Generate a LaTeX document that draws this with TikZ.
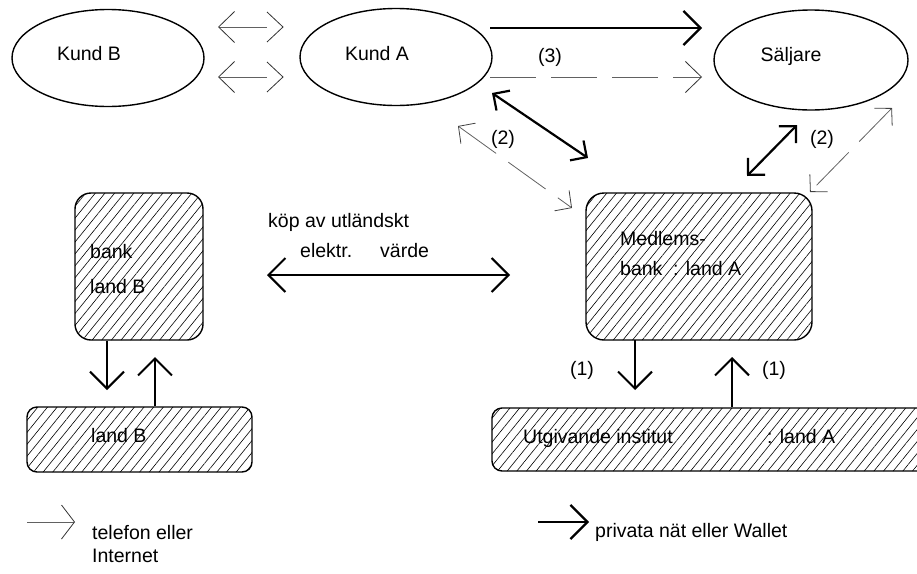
\documentclass[tikz,border=0pt]{standalone}
\usepackage{fontspec}
\setmainfont{Liberation Sans}
\usetikzlibrary{arrows.meta,patterns.meta,shapes.geometric}
\begin{document}
\begin{tikzpicture}[x=1pt,y=-1pt,
  every node/.style={font=\fontsize{19.5}{22}\selectfont},
  ell/.style={draw, line width=1.4pt, ellipse, inner sep=0pt, minimum width=192pt, minimum height=97pt},
  hbox/.style={draw, line width=1.4pt, inner sep=0pt, pattern={Lines[angle=51,distance=7.5pt,line width=0.6pt]}},
  lbl/.style={inner sep=0pt, anchor=west, text height=14pt, text depth=0pt},
  clbl/.style={inner sep=0pt, text height=14pt, text depth=0pt},
  thk/.style={line width=2.2pt, black},
  thn/.style={line width=0.8pt, black!62},
  thd/.style={thn, dash pattern=on 46pt off 15pt},
  HB/.tip={Straight Barb[length=17pt,width=34pt,color=black]},
  TB/.tip={Straight Barb[length=16pt,width=31pt,color=black!80]},
  DB/.tip={Straight Barb[length=12pt,width=24pt]},
  DT/.tip={Straight Barb[length=12pt,width=25pt,color=black!75]}
]
\useasboundingbox (0,0) rectangle (917,573);
\clip (0,0) rectangle (917,573);

% ellipses
\node[ell] (kb) at (108,58) {};
\node[ell] (ka) at (396,57) {};
\node[ell, minimum width=194pt, minimum height=100pt] (sa) at (811,60) {};
\node[clbl] (kbt) at (89,53) {Kund B};
\node[clbl] (kat) at (377,53) {Kund A};
\node[clbl] (sat) at (791,54) {Säljare};

% hatched boxes
\node[hbox, rounded corners=18pt, minimum width=226pt, minimum height=147pt] (mb) at (699,266.5) {};
\node[hbox, rounded corners=16pt, minimum width=128pt, minimum height=147pt] (bb) at (139,266.5) {};
\node[hbox, rounded corners=10pt, minimum width=225pt, minimum height=65pt] (lb) at (139.5,439.5) {};
\node[hbox, rounded corners=10pt, minimum width=445pt, minimum height=63pt] (ui) at (714.5,439.5) {};

% box texts
\node[lbl] (mb1) at (620,238) {Medlems-};
\node[lbl] (mb2) at (620,268) {bank};
\node[lbl] (mb3) at (673,268) {: land A};
\node[lbl] (bb1) at (90,251) {bank};
\node[lbl] (bb2) at (90,286) {land B};
\node[lbl] (lb1) at (91,435) {land B};
\node[lbl] (ui1) at (523,436) {Utgivande institut};
\node[lbl] (ui2) at (767,436) {: land A};

% thin arrows Kund B -- Kund A
\coordinate (ta1) at (218,27); \coordinate (ta2) at (267,27); \coordinate (ta3) at (283,27);
\draw[thn, {TB}-] (ta1) -- (ta2);
\draw[line width=0.8pt, black!80] (ta3) ++(-16,-15) -- (ta3) -- ++(-16,15);
\coordinate (tb1) at (218,77); \coordinate (tb2) at (267,77); \coordinate (tb3) at (283,77);
\draw[thn, {TB}-] (tb1) -- (tb2);
\draw[line width=0.8pt, black!80] (tb3) ++(-16,-15) -- (tb3) -- ++(-16,15);

% Kund A -> Saljare
\coordinate (k1) at (490,28); \coordinate (s1) at (702,28);
\draw[thk, -{HB}] (k1) -- (s1);
\coordinate (k2) at (490,77); \coordinate (s2) at (702,77);
\draw[thd, -{TB}] (k2) -- (s2);
\node[clbl] (n3) at (550,55) {(3)};

% Kund A <-> Medlemsbank
\coordinate (k3) at (492,93); \coordinate (m3) at (588,158);
\draw[thk, {DB}-{DB}] (k3) -- (m3);
\coordinate (k4) at (458,126); \coordinate (m4) at (572,208);
\draw[thd, {DT}-{DT}] (k4) -- (m4);
\node[clbl] (n2a) at (503,137) {(2)};

% Saljare <-> Medlemsbank
\coordinate (s5) at (797,125); \coordinate (m5) at (747,176);
\draw[thk, {DB}-{DB}] (s5) -- (m5);
\coordinate (s6) at (892,108); \coordinate (m6) at (810,192);
\draw[thd, {DT}-{DT}] (s6) -- (m6);
\node[clbl] (n2b) at (822,137) {(2)};

% kop av utlandskt
\node[lbl] (kp1) at (268,220) {köp av utländskt};
\node[lbl] (kp2) at (300,250) {elektr.};
\node[lbl] (kp3) at (380,250) {värde};
\coordinate (x1) at (267,275); \coordinate (x2) at (510,275);
\draw[line width=2pt, {HB}-{HB}] (x1) -- (x2);

% (1) arrows
\coordinate (d1) at (635,390);
\draw[line width=2pt, -{HB}] (mb.south -| d1) -- (d1);
\coordinate (u1) at (732,357);
\draw[line width=2pt, -{HB}] (ui.north -| u1) -- (u1);
\node[clbl] (n1a) at (582,368) {(1)};
\node[clbl] (n1b) at (774,368) {(1)};

% land B arrows
\coordinate (d2) at (107,390);
\draw[line width=2pt, -{HB}] (bb.south -| d2) -- (d2);
\coordinate (u2) at (155,357);
\draw[line width=2pt, -{HB}] (lb.north -| u2) -- (u2);

% legend
\coordinate (l1) at (27,522); \coordinate (l2) at (75,522);
\draw[thn, -{Straight Barb[length=13pt,width=34pt,color=black!80]}] (l1) -- (l2);
\node[lbl] (lg1) at (92,532) {telefon eller};
\node[lbl] (lg2) at (92,555) {Internet};
\coordinate (l3) at (538,522); \coordinate (l4) at (589,522);
\draw[thk, -{HB}] (l3) -- (l4);
\node[lbl] (lg3) at (595,530) {privata nät eller Wallet};
\end{tikzpicture}
\end{document}
